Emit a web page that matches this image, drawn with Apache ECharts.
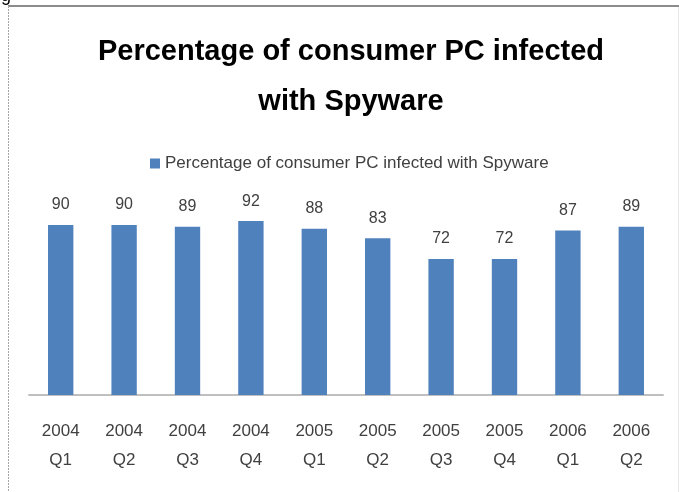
<!DOCTYPE html>
<html>
<head>
<meta charset="utf-8">
<script src="https://cdn.jsdelivr.net/npm/echarts@6/dist/echarts.min.js"></script>
<style>html,body{margin:0;padding:0;background:#fff;}#chart{width:679px;height:492px;}</style>
</head>
<body>
<div id="chart"></div>
<script>
const categories = ['2004\nQ1','2004\nQ2','2004\nQ3','2004\nQ4','2005\nQ1','2005\nQ2','2005\nQ3','2005\nQ4','2006\nQ1','2006\nQ2'];
const seriesName = 'Percentage of consumer PC infected with Spyware';
const values = [90, 90, 89, 92, 88, 83, 72, 72, 87, 89];
const titleText = 'Percentage of consumer PC infected\nwith Spyware';

const chart = echarts.init(document.getElementById('chart'), null, {renderer: 'canvas'});
const FONT = '"Liberation Sans", Arial, sans-serif';
chart.setOption({
  animation: false,
  backgroundColor: '#ffffff',
  title: {
    text: titleText,
    left: 346,
    top: 22,
    textAlign: 'center',
    textStyle: {fontFamily: FONT, fontSize: 29, fontWeight: 'bold', color: '#000000', lineHeight: 50}
  },
  legend: {
    data: [seriesName],
    left: 145,
    top: 150,
    icon: 'rect',
    itemWidth: 10,
    itemHeight: 10,
    itemGap: 6,
    textStyle: {fontFamily: FONT, fontSize: 17, color: '#404040'}
  },
  grid: {left: 29, right: 16, top: 206, bottom: 97, containLabel: false},
  xAxis: {
    type: 'category',
    data: categories,
    axisLine: {lineStyle: {color: '#bfbfbf', width: 2}},
    axisTick: {show: false},
    axisLabel: {fontFamily: FONT, fontSize: 17, color: '#404040', lineHeight: 29, margin: 22, interval: 0}
  },
  yAxis: {
    type: 'value', min: 0, max: 100, show: false, splitLine: {show: false}
  },
  series: [{
    name: seriesName,
    type: 'bar',
    data: values,
    barCategoryGap: '60%',
    itemStyle: {color: '#4f81bd'},
    label: {show: true, position: 'top', distance: 12, fontFamily: FONT, fontSize: 16, color: '#404040'}
  }],
  graphic: [
    {type: 'line', shape: {x1: 8, y1: 6, x2: 679, y2: 6}, style: {stroke: '#8c8c8c', lineWidth: 2}},
    {type: 'line', shape: {x1: 8.5, y1: 6, x2: 8.5, y2: 492}, style: {stroke: '#a6a6a6', lineWidth: 1, lineDash: [2, 1]}},
    {type: 'line', shape: {x1: 678.5, y1: 7, x2: 678.5, y2: 492}, style: {stroke: '#e6e6e6', lineWidth: 1}},
    {type: 'text', left: 1, top: -13, style: {text: 'g', fontFamily: FONT, fontSize: 18, fill: '#000000'}}
  ]
});
</script>
</body>
</html>
